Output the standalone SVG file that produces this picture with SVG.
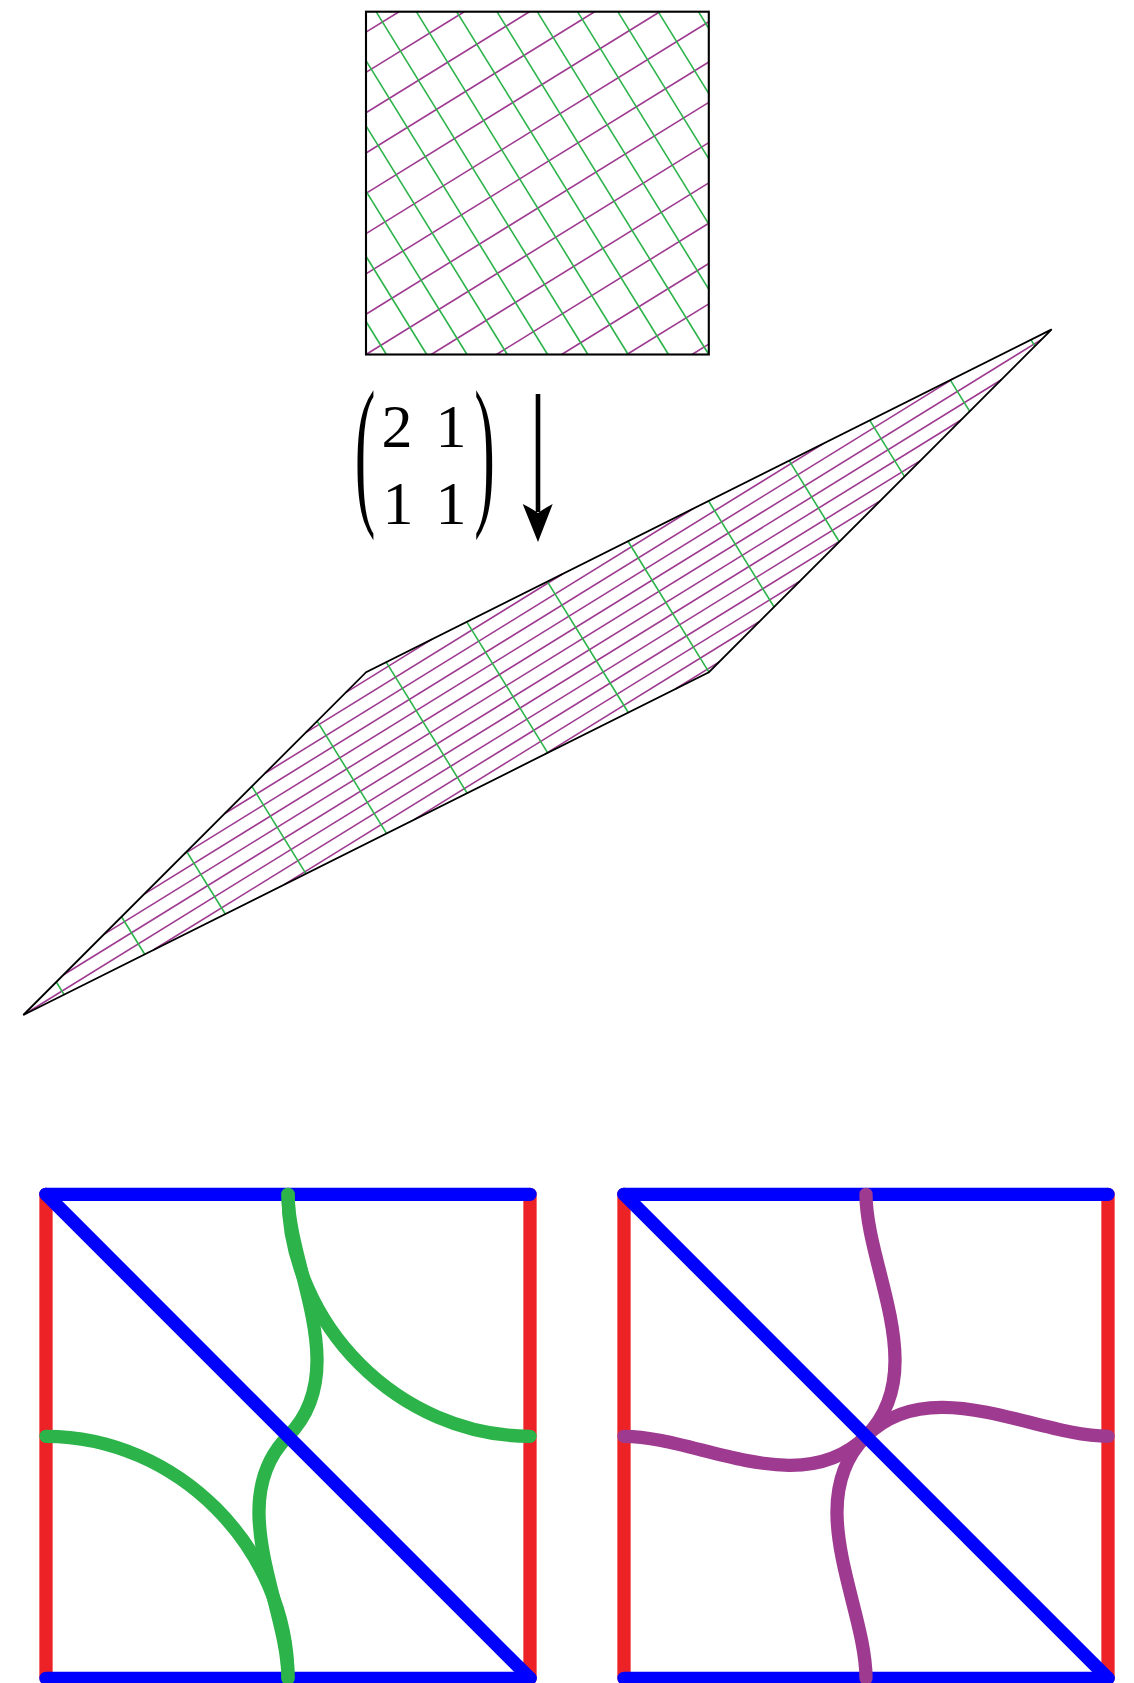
<svg xmlns="http://www.w3.org/2000/svg" width="1134" height="1683" viewBox="0 0 1134 1683">
<style>
.pl{stroke:#9E3B91;stroke-width:1.6;fill:none}
.gl{stroke:#2CB34A;stroke-width:1.6;fill:none}
.frame{stroke:#000;fill:none;stroke-linejoin:miter}
.thick{fill:none;stroke-width:13.3;stroke-linecap:round}
.red{stroke:#EC2227}
.blue{stroke:#0000FF}
.green{stroke:#2CB34A}
.purple{stroke:#9E3B91}
.num{font-family:"Liberation Serif","DejaVu Serif",serif;font-size:62px;fill:#000;text-anchor:middle}
</style>
<rect width="1134" height="1683" fill="#fff"/>
<g id="top-square">
<g class="pl">
<line x1="692.02" y1="354.5" x2="708.8" y2="344.13"/>
<line x1="626.82" y1="354.5" x2="708.8" y2="303.83"/>
<line x1="561.62" y1="354.5" x2="708.8" y2="263.53"/>
<line x1="496.41" y1="354.5" x2="708.8" y2="223.24"/>
<line x1="431.20" y1="354.5" x2="708.8" y2="182.94"/>
<line x1="366" y1="354.5" x2="708.8" y2="142.64"/>
<line x1="366" y1="314.20" x2="708.8" y2="102.34"/>
<line x1="366" y1="273.90" x2="708.8" y2="62.04"/>
<line x1="366" y1="233.60" x2="708.8" y2="21.74"/>
<line x1="366" y1="193.31" x2="659.84" y2="11.7"/>
<line x1="366" y1="153.01" x2="594.64" y2="11.7"/>
<line x1="366" y1="112.71" x2="529.44" y2="11.7"/>
<line x1="366" y1="72.41" x2="464.23" y2="11.7"/>
<line x1="366" y1="32.11" x2="399.03" y2="11.7"/>
</g>
<g class="gl">
<line x1="366" y1="321.47" x2="386.41" y2="354.5"/>
<line x1="366" y1="256.27" x2="426.71" y2="354.5"/>
<line x1="366" y1="191.06" x2="467.01" y2="354.5"/>
<line x1="366" y1="125.86" x2="507.31" y2="354.5"/>
<line x1="366" y1="60.66" x2="547.61" y2="354.5"/>
<line x1="376.04" y1="11.7" x2="587.90" y2="354.5"/>
<line x1="416.34" y1="11.7" x2="628.20" y2="354.5"/>
<line x1="456.64" y1="11.7" x2="668.50" y2="354.5"/>
<line x1="496.94" y1="11.7" x2="708.8" y2="354.5"/>
<line x1="537.24" y1="11.7" x2="708.8" y2="289.30"/>
<line x1="577.53" y1="11.7" x2="708.8" y2="224.09"/>
<line x1="617.83" y1="11.7" x2="708.8" y2="158.88"/>
<line x1="658.13" y1="11.7" x2="708.8" y2="93.68"/>
<line x1="698.43" y1="11.7" x2="708.8" y2="28.48"/>
</g>
<rect class="frame" x="366" y="11.7" width="342.8" height="342.8" stroke-width="2.1"/>
</g>
<g id="label-matrix">
<text class="num" transform="translate(365,504.6) scale(1,2.68)" x="0" y="0" font-size="60">(</text>
<text class="num" transform="translate(484.5,504.6) scale(1,2.68)" x="0" y="0" font-size="60">)</text>
<text class="num" x="397" y="447">2</text>
<text class="num" x="451" y="447">1</text>
<text class="num" x="398" y="524">1</text>
<text class="num" x="451" y="524">1</text>
</g>
<g id="connectors">
<line x1="538" y1="394" x2="538" y2="512" stroke="#000" stroke-width="4.6"/>
<path d="M538,542 L522.7,504 Q531,508 538,513 Q545,508 552.7,504 Z" fill="#000"/>
</g>
<g id="parallelogram">
<g class="pl">
<line x1="675.35" y1="688.98" x2="719.27" y2="661.83"/>
<line x1="544.94" y1="754.18" x2="759.57" y2="621.53"/>
<line x1="414.53" y1="819.38" x2="799.87" y2="581.23"/>
<line x1="284.12" y1="884.59" x2="840.16" y2="540.94"/>
<line x1="153.71" y1="949.80" x2="880.46" y2="500.64"/>
<line x1="23.3" y1="1015" x2="920.76" y2="460.34"/>
<line x1="63.60" y1="974.70" x2="961.06" y2="420.04"/>
<line x1="103.90" y1="934.40" x2="1001.36" y2="379.74"/>
<line x1="144.20" y1="894.10" x2="1041.66" y2="339.44"/>
<line x1="184.49" y1="853.81" x2="953.78" y2="378.36"/>
<line x1="224.79" y1="813.51" x2="823.37" y2="443.56"/>
<line x1="265.09" y1="773.21" x2="692.97" y2="508.76"/>
<line x1="305.39" y1="732.91" x2="562.57" y2="573.97"/>
<line x1="345.69" y1="692.61" x2="432.15" y2="639.17"/>
</g>
<g class="gl">
<line x1="56.33" y1="981.97" x2="64.12" y2="994.59"/>
<line x1="121.53" y1="916.77" x2="144.72" y2="954.29"/>
<line x1="186.74" y1="851.56" x2="225.32" y2="913.99"/>
<line x1="251.94" y1="786.36" x2="305.91" y2="873.69"/>
<line x1="317.14" y1="721.16" x2="386.51" y2="833.39"/>
<line x1="386.19" y1="662.16" x2="467.11" y2="793.10"/>
<line x1="466.78" y1="621.86" x2="547.71" y2="752.80"/>
<line x1="547.38" y1="581.56" x2="628.30" y2="712.50"/>
<line x1="627.98" y1="541.26" x2="708.9" y2="672.2"/>
<line x1="708.57" y1="500.96" x2="774.10" y2="607.00"/>
<line x1="789.17" y1="460.67" x2="839.31" y2="541.79"/>
<line x1="869.77" y1="420.37" x2="904.52" y2="476.58"/>
<line x1="950.37" y1="380.07" x2="969.72" y2="411.38"/>
<line x1="1030.97" y1="339.77" x2="1034.92" y2="346.18"/>
</g>
<polygon class="frame" points="23.3,1015 708.9,672.2 1051.7,329.4 366.1,672.2" stroke-width="1.8"/>
</g>
<g id="square-green">
<line class="thick red" x1="46" y1="1194.3" x2="46" y2="1678.3"/>
<line class="thick red" x1="530" y1="1194.3" x2="530" y2="1678.3"/>
<line class="thick blue" x1="46" y1="1194.3" x2="530" y2="1194.3"/>
<line class="thick blue" x1="46" y1="1678.3" x2="530" y2="1678.3"/>
<path class="thick green" d="M288,1194.3 C288,1325 399.3,1436.3 530,1436.3"/>
<path class="thick green" d="M46,1436.3 C176.7,1436.3 288,1547.6 288,1678.3"/>
<path class="thick green" d="M288,1194.3 C288,1266.9 353.3,1371 288,1436.3 C222.7,1501.6 288,1605.7 288,1678.3"/>
<line class="thick blue" x1="46" y1="1194.3" x2="530" y2="1678.3"/>
</g>
<g id="square-purple">
<line class="thick red" x1="624" y1="1194.3" x2="624" y2="1678.3"/>
<line class="thick red" x1="1108" y1="1194.3" x2="1108" y2="1678.3"/>
<line class="thick blue" x1="624" y1="1194.3" x2="1108" y2="1194.3"/>
<line class="thick blue" x1="624" y1="1678.3" x2="1108" y2="1678.3"/>
<path class="thick purple" d="M866,1194.3 C866,1266.9 931.3,1371 866,1436.3"/>
<path class="thick purple" d="M1108,1436.3 C1035.4,1436.3 931.3,1371 866,1436.3"/>
<path class="thick purple" d="M866,1678.3 C866,1605.7 800.7,1501.6 866,1436.3"/>
<path class="thick purple" d="M624,1436.3 C696.6,1436.3 800.7,1501.6 866,1436.3"/>
<line class="thick blue" x1="624" y1="1194.3" x2="1108" y2="1678.3"/>
</g>
</svg>
